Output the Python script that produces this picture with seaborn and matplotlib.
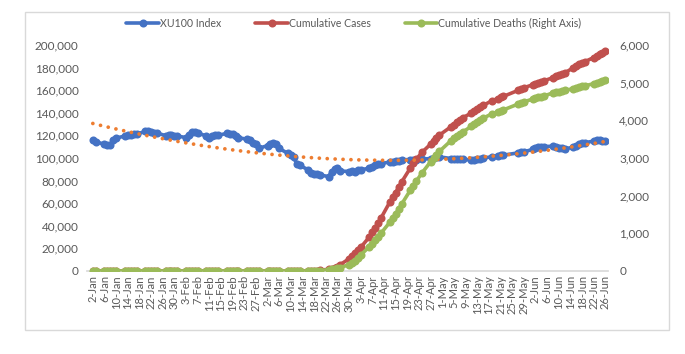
import matplotlib
matplotlib.use("Agg")
import matplotlib.pyplot as plt
from matplotlib.lines import Line2D
from matplotlib.patches import Rectangle
from matplotlib.ticker import FuncFormatter
import seaborn as sns
import pandas as pd
import numpy as np

# ---------------- data ----------------
start_date = "2020-01-02"
end_date = "2020-06-26"
market_holidays = ["2020-04-23", "2020-05-01", "2020-05-19", "2020-05-25", "2020-05-26"]

xu100 = [
    116000, 114500,
    112000, 111200, 111500, 115500, 117500,
    119500, 120300, 120500, 121000, 121000,
    123500, 124000, 123300, 122500, 122000,
    119800, 120000, 120500, 119500, 119500,
    118000, 120500, 122800, 123000, 122000,
    119500, 118000, 119000, 120000, 120000,
    121800, 121500, 121000, 119500, 118000,
    116500, 115500, 113500, 112000, 108500,
    111000, 112500, 113000, 112000, 108500,
    104000, 102500, 100500, 95000, 93500,
    89500, 87000, 86000, 85500, 85000,
    83500, 88000, 90000, 91500, 88500,
    88000, 88500, 88000, 89000, 89500,
    91000, 92000, 94000, 94500, 95000,
    96500, 96000, 97000, 97500, 98500,
    98500, 98000, 98500, 99000,
    99500, 100000, 100500, 101000,
    99500, 99000, 99500, 99500, 99000,
    98000, 98500, 99000, 99500, 100000,
    101000, 102000, 102500, 102500,
    104500, 105500, 105500,
    107500, 108500, 109500, 110000, 110000,
    110500, 109500, 108500, 109000, 108000,
    109500, 110500, 112000, 113000, 113500,
    115000, 116000, 115500, 115000, 115000,
]

cases = [0] * 49 + [
    1, 1, 5,
    47, 98, 191, 359, 670,
    1529, 1872, 2433, 3629, 5698,
    10827, 13531, 15679, 18135, 20921,
    30217, 34109, 38226, 42282, 47029,
    61049, 65111, 69392, 74193, 78546,
    90980, 95591, 98674, 104912,
    112261, 114653, 117589, 120204,
    127659, 129491, 131744, 133721, 135569,
    139771, 141475, 143114, 144749, 146457,
    150593, 152587, 153548, 154500,
    159797, 160979, 162120,
    164769, 165555, 166422, 167410, 168340,
    171121, 172114, 173036, 174023, 175218,
    179831, 181298, 182727, 184031, 185245,
    188897, 190165, 191657, 193115, 194511,
]

deaths = [0] * 53 + [
    1, 2, 4, 9,
    37, 44, 59, 75, 92,
    168, 214, 277, 356, 425,
    649, 725, 812, 908, 1006,
    1296, 1403, 1518, 1643, 1769,
    2140, 2259, 2376, 2600,
    2900, 2992, 3081, 3174,
    3461, 3520, 3584, 3641, 3689,
    3841, 3894, 3952, 4007, 4055,
    4171, 4222, 4249, 4276,
    4431, 4461, 4489,
    4563, 4585, 4609, 4630, 4648,
    4729, 4746, 4763, 4778, 4792,
    4842, 4861, 4882, 4899, 4915,
    4974, 4995, 5025, 5046, 5065,
]

tick_labels = ["2-Jan", "6-Jan", "10-Jan", "14-Jan", "18-Jan", "22-Jan", "26-Jan", "30-Jan",
               "3-Feb", "7-Feb", "11-Feb", "15-Feb", "19-Feb", "23-Feb", "27-Feb",
               "2-Mar", "6-Mar", "10-Mar", "14-Mar", "18-Mar", "22-Mar", "26-Mar", "30-Mar",
               "3-Apr", "7-Apr", "11-Apr", "15-Apr", "19-Apr", "23-Apr", "27-Apr",
               "1-May", "5-May", "9-May", "13-May", "17-May", "21-May", "25-May", "29-May",
               "2-Jun", "6-Jun", "10-Jun", "14-Jun", "18-Jun", "22-Jun", "26-Jun"]

series_names = ["XU100 Index", "Cumulative Cases", "Cumulative Deaths (Right Axis)"]

# ---------------- build frame ----------------
t0 = pd.Timestamp(start_date)
dates = pd.bdate_range(start_date, end_date)
dates = dates[~dates.isin(pd.to_datetime(market_holidays))]
assert len(dates) == len(xu100) == len(cases) == len(deaths)
df = pd.DataFrame({
    "day": (dates - t0).days.astype(float),
    "xu": xu100,
    "cases": cases,
    "deaths": deaths,
})
tick_pos = [(pd.to_datetime(l + "-2020", format="%d-%b-%Y") - t0).days for l in tick_labels]

# ---------------- style ----------------
sns.set_theme(style="white")
plt.rcParams["font.family"] = ["Lato", "DejaVu Sans"]
TXT = "#595959"
BLUE = "#4472C4"
RED = "#C0504D"
GREEN = "#9BBB59"
ORANGE = "#ED7D31"

fig = plt.figure(figsize=(6.85, 3.54), dpi=100)
ax = fig.add_axes([0.127, 0.2345, 0.761, 0.6385])
ax2 = ax.twinx()

lw = 2.6
ms = 5.8
sns.lineplot(data=df, x="day", y="xu", ax=ax, color=BLUE, lw=lw, marker="o",
             markersize=ms, markeredgewidth=0)
sns.lineplot(data=df, x="day", y="cases", ax=ax, color=RED, lw=lw, marker="o",
             markersize=ms, markeredgewidth=0)
sns.regplot(data=df, x="day", y="xu", order=2, scatter=False, ci=None, ax=ax,
            line_kws=dict(color=ORANGE, lw=2.7, ls=(0, (0.01, 2.1)),
                          dash_capstyle="round"))
sns.lineplot(data=df, x="day", y="deaths", ax=ax2, color=GREEN, lw=lw, marker="o",
             markersize=ms, markeredgewidth=0)

ax.set_xlim(-2, 177)
ax.set_ylim(0, 200000)
ax2.set_ylim(0, 6000)
ax.set_yticks(np.arange(0, 200001, 20000))
ax2.set_yticks(np.arange(0, 6001, 1000))
fmt = FuncFormatter(lambda v, p: f"{int(v):,}")
ax.yaxis.set_major_formatter(fmt)
ax2.yaxis.set_major_formatter(fmt)
ax.set_xticks(tick_pos)
ax.set_xticklabels(tick_labels, rotation=90)

for a in (ax, ax2):
    a.set_xlabel("")
    a.set_ylabel("")
    for s in a.spines.values():
        s.set_visible(False)
    a.tick_params(length=0, colors=TXT, labelsize=8.5)
ax.tick_params(axis="x", labelsize=8, pad=3)
ax.tick_params(axis="y", pad=6)
ax2.tick_params(axis="y", pad=8)
ax.spines["bottom"].set_visible(True)
ax.spines["bottom"].set_color("#D9D9D9")
ax.grid(False)
ax2.grid(False)

handles = [Line2D([], [], color=c, lw=lw, marker="o", markersize=ms, markeredgewidth=0)
           for c in (BLUE, RED, GREEN)]
leg = fig.legend(handles, series_names, loc="center", bbox_to_anchor=(354 / 685, 1 - 23 / 354),
                 ncol=3, frameon=False, fontsize=7.6, handlelength=3.1,
                 handletextpad=0.1, columnspacing=3.2)
for t in leg.get_texts():
    t.set_color(TXT)

fig.patches.append(Rectangle((25 / 685, 1 - 330 / 354), 644 / 685, 318 / 354,
                             transform=fig.transFigure, fill=False,
                             ec="#D9D9D9", lw=1))

fig.savefig("out.png", dpi=100)
